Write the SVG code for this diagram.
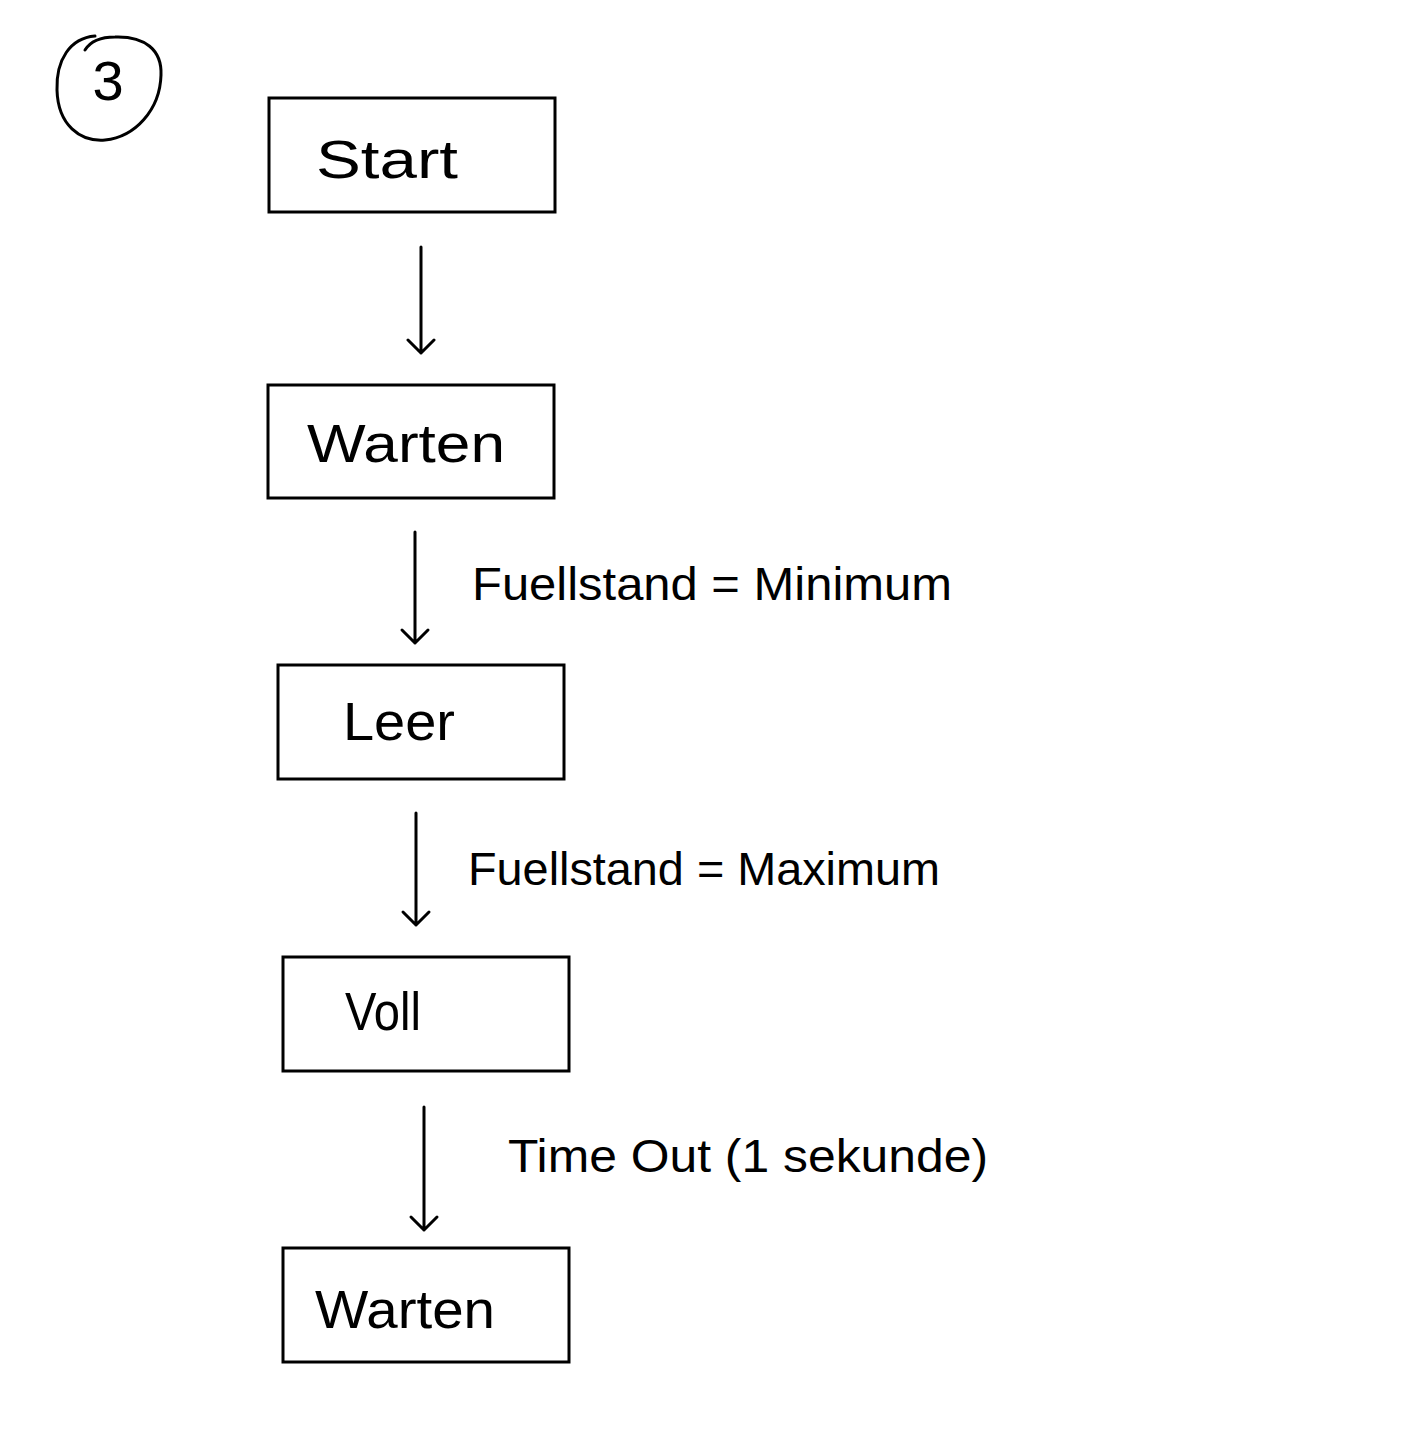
<svg xmlns="http://www.w3.org/2000/svg" width="1409" height="1430" viewBox="0 0 1409 1430">
<style>
.box{fill:none;stroke:#000;stroke-width:3}
.ln{fill:none;stroke:#000;stroke-width:3;stroke-linecap:round;stroke-linejoin:round}
.t{font-family:"Liberation Sans",Arial,sans-serif;fill:#000}
.nt{font-size:54px}
.lt{font-size:46px}
</style>
<rect width="1409" height="1430" fill="#fff"/>
<g id="badge">
<path class="ln" d="M95,36 C70,38 56,60 57,90 C58,125 80,142 105,140 C135,137 160,110 161,75 C162,50 145,36 115,37 C100,37 90,42 85,50"/>
<text class="t" x="108" y="100" font-size="56" text-anchor="middle">3</text>
</g>
<g id="connectors">
<path class="ln" d="M421,247 V353 M408,340 L421,353 L434,340"/>
<path class="ln" d="M415,532 V643 M402,630 L415,643 L428,630"/>
<path class="ln" d="M416,813 V925 M403,912 L416,925 L429,912"/>
<path class="ln" d="M424,1107 V1230 M411,1217 L424,1230 L437,1217"/>
<text class="t lt" x="472" y="600" textLength="480" lengthAdjust="spacingAndGlyphs">Fuellstand = Minimum</text>
<text class="t lt" x="468" y="885" textLength="472" lengthAdjust="spacingAndGlyphs">Fuellstand = Maximum</text>
<text class="t lt" x="508" y="1172" textLength="480" lengthAdjust="spacingAndGlyphs">Time Out (1 sekunde)</text>
</g>
<g id="start">
<rect class="box" x="269" y="98" width="286" height="114"/>
<text class="t nt" x="316" y="178" textLength="142" lengthAdjust="spacingAndGlyphs">Start</text>
</g>
<g id="warten1">
<rect class="box" x="268" y="385" width="286" height="113"/>
<text class="t nt" x="307" y="462" textLength="198" lengthAdjust="spacingAndGlyphs">Warten</text>
</g>
<g id="leer">
<rect class="box" x="278" y="665" width="286" height="114"/>
<text class="t nt" x="343" y="740" textLength="112" lengthAdjust="spacingAndGlyphs">Leer</text>
</g>
<g id="voll">
<rect class="box" x="283" y="957" width="286" height="114"/>
<text class="t nt" x="345" y="1030" textLength="76" lengthAdjust="spacingAndGlyphs">Voll</text>
</g>
<g id="warten2">
<rect class="box" x="283" y="1248" width="286" height="114"/>
<text class="t nt" x="315" y="1328" textLength="180" lengthAdjust="spacingAndGlyphs">Warten</text>
</g>
</svg>
